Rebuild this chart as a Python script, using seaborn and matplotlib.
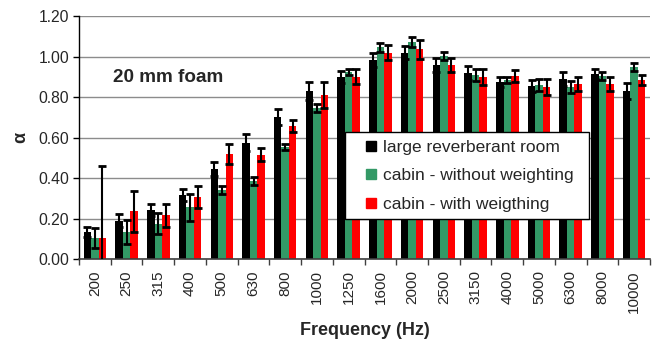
import numpy as np
import pandas as pd
import seaborn as sns
import matplotlib
matplotlib.use("Agg")
import matplotlib.pyplot as plt
from matplotlib.lines import Line2D
from matplotlib.ticker import FixedLocator, FormatStrFormatter

# One-third-octave band centre frequencies
freqs = ['200', '250', '315', '400', '500', '630', '800', '1000', '1250',
         '1600', '2000', '2500', '3150', '4000', '5000', '6300', '8000', '10000']

series_names = ['large reverberant room', 'cabin - without weighting',
                'cabin - with weigthing']

# Absorption coefficient (mean) and half-width of the error bars
large_room = [0.135, 0.19, 0.24, 0.315, 0.445, 0.575, 0.70, 0.83, 0.90,
              0.985, 1.02, 0.96, 0.92, 0.875, 0.855, 0.89, 0.915, 0.83]
large_room_err = [0.025, 0.03, 0.03, 0.03, 0.035, 0.04, 0.04, 0.045, 0.03,
                  0.035, 0.03, 0.035, 0.035, 0.025, 0.03, 0.035, 0.025, 0.04]

cabin_no_w = [0.105, 0.135, 0.175, 0.255, 0.34, 0.385, 0.555, 0.745, 0.925,
              1.045, 1.07, 1.005, 0.91, 0.885, 0.86, 0.85, 0.905, 0.95]
cabin_no_w_err = [0.05, 0.06, 0.05, 0.065, 0.02, 0.02, 0.015, 0.02, 0.015,
                  0.02, 0.025, 0.02, 0.03, 0.015, 0.03, 0.03, 0.02, 0.02]

cabin_w = [0.105, 0.235, 0.215, 0.305, 0.52, 0.515, 0.655, 0.81, 0.90,
           1.02, 1.035, 0.96, 0.90, 0.905, 0.85, 0.865, 0.865, 0.885]
cabin_w_err = [0.355, 0.10, 0.055, 0.055, 0.05, 0.033, 0.03, 0.063, 0.037,
               0.035, 0.048, 0.035, 0.04, 0.03, 0.04, 0.036, 0.035, 0.025]

colors = ['#000000', '#339966', '#ff0000']

values = [large_room, cabin_no_w, cabin_w]
errors = [large_room_err, cabin_no_w_err, cabin_w_err]

df = pd.DataFrame({
    'freq': np.tile(freqs, 3),
    'series': np.repeat(series_names, len(freqs)),
    'alpha': np.concatenate(values),
    'err': np.concatenate(errors),
})

sns.set_theme(style='white')
plt.rcParams['font.family'] = ['Liberation Sans', 'DejaVu Sans']

fig = plt.figure(figsize=(6.52, 3.42), dpi=100)
ax = fig.add_axes([0.1212, 0.2427, 0.8758, 0.7103])

sns.barplot(data=df, x='freq', y='alpha', hue='series', order=freqs,
            hue_order=series_names, palette=colors, saturation=1,
            width=0.71, errorbar=None, legend=False, ax=ax, zorder=2)

# Error bars centred on each drawn bar
for container, err in zip(ax.containers, errors):
    xs = [p.get_x() + p.get_width() / 2 for p in container.patches]
    ys = [p.get_height() for p in container.patches]
    ax.errorbar(xs, ys, yerr=err, fmt='none', ecolor='black',
                elinewidth=1.5, capsize=2.6, capthick=2.0, zorder=3)

for p in ax.patches:
    p.set_edgecolor('none')

ax.set_xlim(-0.5, len(freqs) - 0.5)
ax.set_ylim(0, 1.2)
ax.set_yticks(np.arange(0, 1.21, 0.2))
ax.yaxis.set_major_formatter(FormatStrFormatter('%.2f'))
ax.yaxis.grid(True, color='#8c8c8c', linewidth=1.0)
ax.set_axisbelow(True)

ax.tick_params(axis='y', which='major', direction='out', length=4,
               width=1, color='black', labelsize=11.3, pad=3, left=True)
ax.set_xticks(range(len(freqs)))
ax.set_xticklabels(freqs, rotation=90, fontsize=11)
ax.tick_params(axis='x', which='major', length=0, pad=8, bottom=True)
ax.xaxis.set_minor_locator(FixedLocator(np.arange(-0.5, len(freqs), 1.0)))
ax.tick_params(axis='x', which='minor', direction='out', length=4,
               width=1, color='#404040', bottom=True)

for side in ['top', 'right']:
    ax.spines[side].set_visible(False)
ax.spines['left'].set_color('black')
ax.spines['left'].set_linewidth(1.0)
ax.spines['bottom'].set_color('#404040')
ax.spines['bottom'].set_linewidth(1.2)

ax.set_xlabel('Frequency (Hz)', fontsize=13, fontweight='bold')
ax.xaxis.set_label_coords(0.5, -0.26)
ax.set_ylabel('α', fontsize=13, fontweight='bold')
ax.yaxis.set_label_coords(-0.088, 0.5)

ax.text(0.0595, 0.728, '20 mm foam', transform=ax.transAxes,
        fontsize=13.6, fontweight='bold', va='baseline', ha='left')

handles = [Line2D([0], [0], marker='s', linestyle='none', markersize=7.7,
                  markerfacecolor=c, markeredgecolor=c) for c in colors]
leg = ax.legend(handles, series_names, loc='lower left', mode='expand',
                bbox_to_anchor=(0.466, 0.165, 0.427, 0.36), fontsize=12.5,
                frameon=True, fancybox=False, framealpha=1,
                edgecolor='black', borderpad=0.4, labelspacing=0.78,
                handlelength=2.2, handletextpad=-0.4, borderaxespad=0)
leg.get_frame().set_linewidth(1.0)

fig.savefig('out.png', dpi=100)
